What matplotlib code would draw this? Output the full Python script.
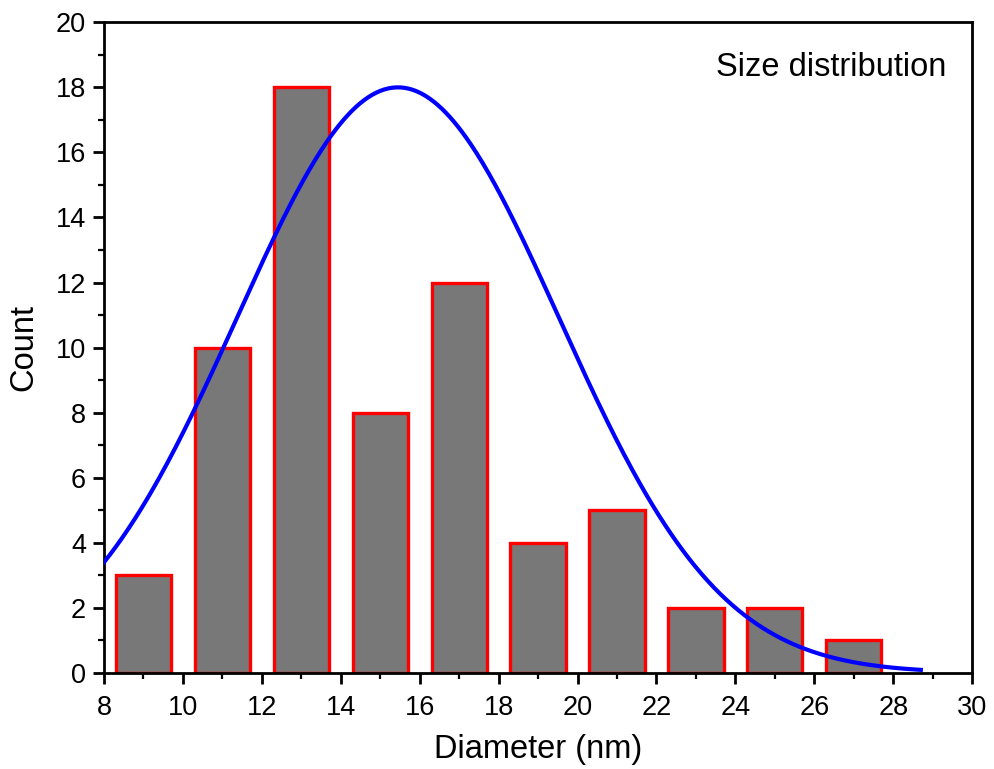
import numpy as np
import matplotlib.pyplot as plt
from matplotlib.ticker import MultipleLocator

plt.rcParams['font.family'] = ['Liberation Sans', 'DejaVu Sans']

# Histogram data (bin centres in nm, counts)
diam = [9, 11, 13, 15, 17, 19, 21, 23, 25, 27]
count = [3, 10, 18, 8, 12, 4, 5, 2, 2, 1]

# Gaussian fit parameters
xc = 15.45
sigma = 4.08
amp = 18.0
x_fit_min, x_fit_max = 8.0, 28.7

fig = plt.figure(figsize=(9.95, 7.69), dpi=100)
ax = fig.add_axes([0.1045, 0.125, 0.8725, 0.846])

ax.bar(diam, count, width=1.4, color='#787878', edgecolor='#ff0000', linewidth=2.4, zorder=2)

xf = np.linspace(x_fit_min, x_fit_max, 400)
yf = amp * np.exp(-(xf - xc) ** 2 / (2 * sigma ** 2))
ax.plot(xf, yf, color='#0000ff', linewidth=3, zorder=3)

ax.set_xlim(8, 30)
ax.set_ylim(0, 20)
ax.xaxis.set_major_locator(MultipleLocator(2))
ax.xaxis.set_minor_locator(MultipleLocator(1))
ax.yaxis.set_major_locator(MultipleLocator(2))
ax.yaxis.set_minor_locator(MultipleLocator(1))
ax.tick_params(which='major', direction='out', length=8, width=2, labelsize=19.5, pad=5)
ax.tick_params(axis='x', which='major', pad=8)
ax.tick_params(which='minor', direction='out', length=4.5, width=1.6)
for s in ax.spines.values():
    s.set_linewidth(2)

ax.set_xlabel('Diameter (nm)', fontsize=23.5, labelpad=9)
ax.set_ylabel('Count', fontsize=23.5, labelpad=12)
ax.text(0.970, 0.931, 'Size distribution', transform=ax.transAxes,
        ha='right', va='center', fontsize=23.5)

fig.savefig('out.png', dpi=100)
